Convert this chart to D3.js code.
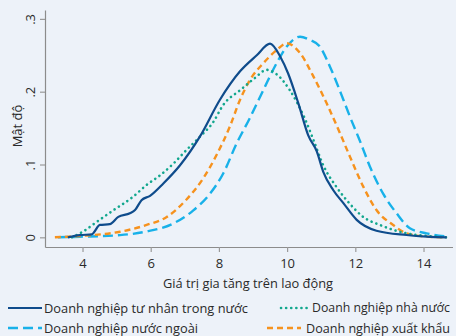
<!DOCTYPE html>
<html><head><meta charset="utf-8">
<script src="https://cdn.jsdelivr.net/npm/d3@7"></script>
<style>
html,body{margin:0;padding:0;background:#edf2f9;}
svg{display:block;}
text{font-family:"Open Sans","Noto Sans",sans-serif;fill:#2a2a2a;}
</style></head><body>
<svg id="c" width="456" height="336"></svg>
<script>
// Series data: [value-added per worker, density]
const privateDomestic = [[3.57,0],[3.92,0.003],[4.27,0.004],[4.51,0.017],[4.80,0.018],[5.05,0.028],[5.39,0.033],[5.54,0.0375],[5.73,0.051],[5.98,0.057],[6.37,0.074],[6.86,0.099],[7.45,0.139],[8.03,0.189],[8.62,0.228],[9.11,0.250],[9.50,0.266],[9.80,0.248],[10.03,0.225],[10.33,0.184],[10.62,0.140],[10.87,0.118],[11.06,0.090],[11.35,0.065],[11.65,0.047],[12.04,0.024],[12.62,0.0091],[13.50,0.0032],[14.09,0.001],[14.68,0]];
const stateOwned = [[3.69,0],[4.02,0.008],[4.41,0.021],[4.90,0.037],[5.49,0.056],[5.88,0.072],[6.27,0.085],[6.66,0.101],[7.05,0.120],[7.44,0.138],[7.83,0.158],[8.13,0.182],[8.62,0.202],[9.06,0.219],[9.40,0.230],[9.69,0.224],[10.08,0.202],[10.52,0.163],[10.77,0.134],[11.06,0.099],[11.45,0.069],[11.84,0.046],[12.23,0.028],[12.72,0.017],[13.50,0.0055],[14.09,0.002],[14.68,0]];
const foreign = [[3.28,0],[3.92,0.0008],[5.10,0.003],[5.88,0.008],[6.66,0.019],[7.25,0.037],[7.74,0.060],[8.13,0.088],[8.52,0.129],[8.91,0.164],[9.30,0.202],[9.69,0.239],[9.99,0.262],[10.38,0.2755],[10.67,0.271],[10.96,0.262],[11.26,0.234],[11.65,0.189],[11.84,0.166],[12.13,0.133],[12.43,0.097],[12.82,0.0596],[13.21,0.033],[13.60,0.0124],[14.09,0.0055],[14.68,0.001]];
const exporters = [[3.19,0],[3.92,0.0018],[5.10,0.0077],[5.88,0.017],[6.47,0.028],[7.05,0.052],[7.54,0.081],[7.93,0.113],[8.32,0.152],[8.62,0.189],[8.91,0.216],[9.30,0.239],[9.69,0.257],[9.99,0.2665],[10.38,0.253],[10.77,0.221],[11.16,0.184],[11.55,0.143],[11.84,0.111],[12.23,0.070],[12.62,0.0375],[13.11,0.0169],[13.50,0.0055],[14.09,0.001],[14.68,0]];

const xTicks = [4,6,8,10,12,14];
const yTicks = [0,0.1,0.2,0.3];
const yTickLabels = ["0",".1",".2",".3"];
const seriesNames = ["Doanh nghiệp tư nhân trong nước","Doanh nghiệp nhà nước","Doanh nghiệp nước ngoài","Doanh nghiệp xuất khẩu"];
const xTitle = "Giá trị gia tăng trên lao động";
const yTitle = "Mật độ";

const styles = [
  {color:"#0f4c8c", dash:null, width:2.2, cap:"butt"},
  {color:"#12a78e", dash:"0.1,5", width:2.6, cap:"round"},
  {color:"#18b1e9", dash:"10,5", width:2.4, cap:"butt"},
  {color:"#f6921e", dash:"6,4", width:2.4, cap:"butt"}
];
const allSeries = [privateDomestic, stateOwned, foreign, exporters];

const svg = d3.select("#c");
const x = d3.scaleLinear().domain([2.9,14.85]).range([45,452.5]);
const y = d3.scaleLinear().domain([-0.0133,0.3122]).range([247,10]);

// axes
const xAxis = svg.append("g").attr("transform","translate(0,247)")
  .call(d3.axisBottom(x).tickValues(xTicks).tickSize(5).tickPadding(4).tickSizeOuter(0));
const yAxis = svg.append("g").attr("transform","translate(45,0)")
  .call(d3.axisLeft(y).tickValues(yTicks).tickSize(5).tickSizeOuter(0).tickFormat((d,i)=>yTickLabels[i]));
[xAxis,yAxis].forEach(a=>{
  a.select(".domain").attr("stroke","#8c8c8c").attr("stroke-width",1.2);
  a.selectAll(".tick line").attr("stroke","#9a9a9a").attr("stroke-width",1.2);
  a.selectAll("text").attr("fill","#2a2a2a").style("font-size","13px").style("font-family",'"Open Sans",sans-serif');
});
xAxis.selectAll("text").attr("dy","0.9em");
yAxis.selectAll(".tick text").attr("transform","rotate(-90)").attr("x",0).attr("y",-10).attr("dy","0em").attr("text-anchor","middle");

svg.append("text").attr("x",248).attr("y",288).attr("text-anchor","middle")
  .style("font-size","13px").attr("textLength",170).attr("lengthAdjust","spacingAndGlyphs").text(xTitle);
svg.append("text").attr("transform","translate(22,126) rotate(-90)").attr("text-anchor","middle")
  .style("font-size","13px").text(yTitle);

// lines
const line = d3.line().x(d=>x(d[0])).y(d=>y(d[1])).curve(d3.curveMonotoneX);
const order = [2,3,1,0];
order.forEach(i=>{
  const s = styles[i];
  svg.append("path").datum(allSeries[i]).attr("d",line).attr("fill","none")
    .attr("stroke",s.color).attr("stroke-width",s.width)
    .attr("stroke-dasharray",s.dash).attr("stroke-linecap",s.cap).attr("stroke-linejoin","round");
});

// legend
const legendItems = [
  {i:0, x1:8, x2:42, tx:44, ty:308, len:204},
  {i:1, x1:281, x2:308, tx:312, ty:308, len:138},
  {i:2, x1:8, x2:42, tx:44, ty:328, len:154},
  {i:3, x1:267, x2:301, tx:306, ty:328, len:144}
];
legendItems.forEach(L=>{
  const s = styles[L.i];
  svg.append("line").attr("x1",L.x1).attr("x2",L.x2).attr("y1",L.ty).attr("y2",L.ty)
    .attr("stroke",s.color).attr("stroke-width",s.width).attr("stroke-dasharray",s.dash).attr("stroke-linecap",s.cap);
  const t = svg.append("text").attr("x",L.tx).attr("y",L.ty).attr("dy","0.36em")
    .style("font-size","13.5px").text(seriesNames[L.i]);
  const w = t.node().getComputedTextLength();
  if (w > L.len) {
    const fs = Math.max(12, 13.5 * L.len / w);
    t.style("font-size", fs + "px");
  }
  t.attr("textLength",L.len).attr("lengthAdjust","spacingAndGlyphs");
});
</script>
</body></html>
